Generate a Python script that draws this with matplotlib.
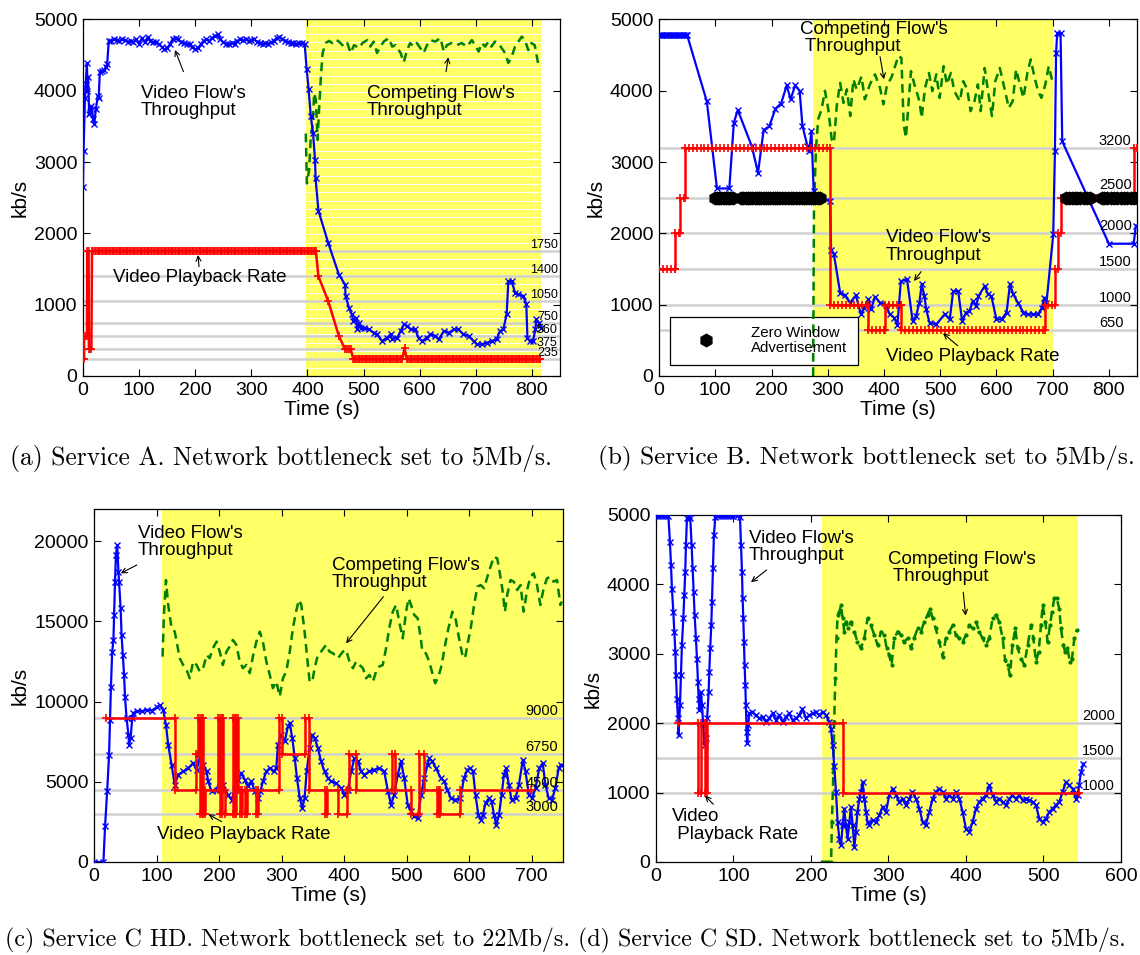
import numpy as np
import matplotlib
matplotlib.use("Agg")
import matplotlib.pyplot as plt
from matplotlib.patches import Rectangle

plt.rcParams["font.family"] = ["Liberation Sans", "DejaVu Sans"]

BLUE = "#0000ff"
RED = "#ff0000"
GREEN = "#007f00"
YELLOW = "#ffff66"
LEVEL_GREY = "#d0d0d0"

# ---------------- (a) Service A, 5 Mb/s bottleneck ----------------
a_levels = [1750, 1400, 1050, 750, 560, 375, 235]
a_video_t = np.r_[[0, 1, 3.5, 5, 7, 8, 9, 11, 13, 15, 18, 20, 23, 26.5, 28, 30, 34, 38, 41, 43, 46],
                  np.arange(50, 400, 5),
                  [398.5, 402, 406, 410, 413.5, 414.5, 419.5, 437, 456, 467, 468, 474, 479, 482, 486,
                   489, 492, 495, 500, 509, 518, 524, 533, 542, 548, 551, 560, 566, 572, 578, 584, 592,
                   598, 604, 613, 619, 628, 634, 643, 652, 661, 669, 678, 687, 696, 702, 711, 720, 728,
                   737, 743, 749, 755, 758, 764, 770, 776, 785, 790, 792, 796, 802, 806, 808, 812, 816]]
a_video = [2650, 3150, 3900, 4100, 4390, 4000, 4200, 3670, 3700, 3780, 3600, 3530, 3750, 3925, 3900,
           4270, 4280, 4290, 4340, 4370, 4700,
           4700, 4720, 4710, 4700, 4720, 4710, 4690, 4700, 4680, 4720,
           4660, 4740, 4680, 4750, 4700, 4680, 4690, 4650, 4620, 4580,
           4600, 4650, 4730, 4740, 4720, 4680, 4670, 4660, 4650, 4620,
           4580, 4600, 4650, 4700, 4720, 4700, 4740, 4770, 4790, 4720,
           4680, 4660, 4650, 4670, 4660, 4700, 4720, 4710, 4720, 4700,
           4710, 4720, 4690, 4670, 4660, 4670, 4660, 4680, 4700, 4740,
           4750, 4730, 4700, 4680, 4670, 4670, 4660, 4670, 4670, 4660,
           4310, 4030, 3640, 3407, 3030, 2770, 2320, 1867, 1423, 1283,
           1120, 957, 863, 770, 817, 653, 747, 677, 677, 653,
           607, 583, 490, 537, 583, 513, 537, 630, 723, 700,
           653, 653, 537, 490, 537, 583, 560, 513, 630, 607,
           653, 653, 583, 560, 490, 443, 443, 467, 490, 513,
           630, 653, 863, 1330, 1330, 1167, 1143, 1120, 1003, 537,
           490, 490, 653, 793, 747, 677]
a_compete_t = [397, 399, 403, 406, 409, 412, 415, 418, 421, 424, 427, 432.5, 438.5, 444, 450, 456, 465,
               471, 477, 483, 492, 498, 506.5, 512, 518, 524, 530, 536, 545, 551, 557, 566, 571.6, 577.5,
               583, 589, 595, 601, 607, 613, 619, 628, 637, 643, 648.5, 657, 666, 675, 684, 693, 699,
               705, 711, 716.6, 722.5, 728, 734, 740, 746, 752, 758, 764, 770, 776, 782, 787.6, 793.5,
               799, 805, 812]
a_compete = [3400, 2700, 2890, 3360, 3500, 3966, 3870, 3310, 3780, 4200, 4530, 4670, 4700, 4670, 4720,
             4690, 4620, 4670, 4530, 4640, 4600, 4670, 4710, 4620, 4690, 4530, 4620, 4690, 4740, 4620,
             4640, 4530, 4400, 4570, 4670, 4620, 4670, 4600, 4530, 4640, 4710, 4690, 4740, 4550, 4640,
             4670, 4640, 4670, 4620, 4710, 4640, 4550, 4670, 4620, 4690, 4620, 4690, 4670, 4600, 4530,
             4390, 4480, 4620, 4690, 4760, 4710, 4570, 4670, 4640, 4340]
# playback rate: (from s, to s, kb/s), consecutive entries joined by straight lines
a_rate = [(0, 2, 235), (2, 7, 560), (7.5, 10, 1750), (10.5, 15, 375), (16, 415, 1750),
          (419.5, 419.5, 1400), (437, 437, 1050), (456, 456, 560), (467, 477, 375),
          (482, 569, 235), (573, 573, 390), (577, 815, 235)]

# ---------------- (b) Service B, 5 Mb/s bottleneck ----------------
b_levels = [3200, 2500, 2000, 1500, 1000, 650]
b_video_t = [0, 3, 6, 9, 12, 15, 18, 21, 24, 27, 30, 33, 36, 39, 42, 45, 48, 50,
             85, 103, 125, 133, 140, 165, 176, 186, 196, 207, 217, 227, 234, 242, 250, 255, 264, 267,
             271, 275, 287, 304, 306, 311, 322, 330, 340, 350, 359, 365, 372, 377, 384, 393, 403, 410,
             418, 424, 430, 441, 451, 457, 463, 467, 472, 475, 481, 493, 508, 517, 523, 532, 539, 546,
             552, 558, 564, 568, 579, 585, 591, 600, 609, 618, 624, 630, 638, 648, 656, 665, 674, 681,
             685, 689, 701, 704, 706, 708, 714, 717, 800, 844, 848]
b_video = [4780, 4780, 4780, 4780, 4780, 4780, 4780, 4780, 4780, 4780, 4780, 4780, 4780, 4780, 4780,
           4780, 4780, 4780,
           3850, 2630, 2630, 3550, 3730, 3220, 2850, 3450, 3500, 3750, 3820, 4075, 3880, 4075, 4000,
           3510, 3220, 3150, 3430, 2590, 2500, 2450, 1770, 1705, 1170, 1130, 1030, 1130, 865, 960,
           1075, 935, 1110, 1030, 1000, 870, 820, 720, 1330, 1355, 770, 840, 1030, 1285, 1120, 935,
           750, 725, 865, 795, 1190, 1190, 770, 890, 910, 1050, 980, 1120, 1260, 1145, 1120, 795,
           795, 890, 1285, 1145, 1030, 890, 865, 865, 865, 960, 1100, 1030, 1985, 3150, 4530, 4810,
           4810, 3290, 1855, 1855, 2110]
b_compete_t = [274, 275.5, 279, 283, 289, 295, 301, 307, 311, 316, 322, 328, 334, 340, 345.6, 351.5,
               360, 366, 375, 384, 393, 399, 405, 414, 425.6, 431, 435, 439, 448, 454, 463, 467, 473,
               480, 486, 493, 499, 506, 512, 519, 525, 535, 541, 548, 554, 561, 567, 572, 579, 585,
               592, 598, 606, 614, 622, 629, 635, 641, 648, 655, 661, 668, 674, 680, 687, 693, 698, 700]
b_compete = [0, 2340, 3180, 3600, 3740, 4000, 3740, 3320, 3270, 3785, 4110, 3830, 4020, 3645, 4160,
             4020, 4200, 3880, 4090, 4230, 4040, 3810, 4065, 4200, 4490, 4460, 3530, 3340, 4275, 4090,
             3855, 3620, 4040, 4250, 3995, 4230, 3900, 4345, 4090, 4250, 3995, 3855, 4135, 4020, 3715,
             3855, 4090, 3715, 4320, 3995, 3645, 4135, 4320, 4040, 3760, 3855, 4300, 4110, 3900, 4250,
             4440, 4180, 3995, 3900, 4090, 4345, 4180, 4135]
b_rate = [(0, 28.6, 1500), (28.6, 38, 2000), (38, 45.8, 2500), (45.8, 304.5, 3200),
          (304.5, 372, 1000), (372, 402, 650), (402, 431, 1000), (431, 685.5, 650),
          (685.5, 705, 1000), (705, 709, 1500), (709, 715, 2000), (715, 845, 2500), (845, 850, 3200)]
b_zero_window_t = [99, 103, 107, 111, 115, 119, 123, 127, 131, 146, 150, 154, 158, 162, 166, 170,
                   174, 178, 182, 186, 190, 194, 198, 202, 206, 210, 214, 219, 224, 229, 234, 239,
                   244, 249, 254, 258, 262, 266, 270, 274, 278, 282, 286, 724, 729, 734, 739, 744,
                   749, 755, 761, 766, 787, 792, 797, 803, 809, 815, 821, 827, 833, 839, 845, 850]
b_zero_window_level = 2500

# ---------------- (c) Service C HD, 22 Mb/s bottleneck ----------------
c_levels = [9000, 6750, 4500, 3000]
c_video_t = [0, 15, 17.6, 21, 24, 25.5, 27, 29, 31, 32, 33.5, 35, 37, 39, 40, 42.5, 44, 46, 48, 49.5,
             52, 55, 56, 58.5, 61, 63, 68, 76, 84, 92, 100, 105, 110.6, 115, 118.6, 124, 129, 134.6,
             142.5, 150.5, 158.5, 164, 169, 174.5, 180, 182.5, 188, 196, 202, 206, 214, 220, 225, 230,
             235.6, 241, 246, 251.6, 257, 262, 266, 270, 275.5, 281, 287, 291.5, 294, 299.5, 305, 310,
             313, 317, 321, 324.5, 329, 333, 336.7, 340, 344.7, 349, 352.7, 358, 363, 368.6, 374, 379,
             387, 395, 400.5, 406, 411, 416.5, 422, 427, 432.4, 440, 448, 456, 464, 470, 475, 480,
             485.6, 491, 496, 501.6, 507, 512, 517.5, 523, 528, 533.5, 536, 541, 546.6, 554.6, 560, 565,
             570.4, 578, 586, 591.6, 597, 602, 606, 610, 614.5, 618, 622, 626, 631.6, 635.8, 639.5,
             643.3, 647.6, 651.8, 655.5, 659, 663.4, 667.6, 674, 679.4, 685.7, 690, 695.3, 700.6, 706,
             712, 717.5, 721.8, 727, 732.4, 737.7, 743, 747]
c_video = [0, 0, 2220, 4440, 6680, 8860, 10935, 13110, 13840, 15400,
           17470, 19130, 19750, 18090, 17470, 15810, 14150, 12900, 11660, 10310,
           8960, 7930, 7300, 7720, 8960, 9280, 9420, 9380, 9480, 9440,
           9630, 9790, 9480, 8550, 7300, 6060, 4810, 5440, 5640, 5850,
           6160, 5750, 6470, 6060, 5640, 5020, 4400, 4500, 5230, 4810,
           4190, 3880, 4500, 5125, 5540, 5125, 4710, 5020, 4400, 3980,
           4400, 5020, 5640, 5850, 5640, 5850, 7300, 7930, 7510, 8450,
           8650, 7720, 6470, 5230, 3980, 3360, 3980, 5640, 7100, 7930,
           7720, 7100, 6270, 5640, 5230, 5020, 4920, 4610, 4190, 4500,
           5640, 6470, 6270, 5640, 5440, 5640, 5750, 5850, 5640, 4400,
           3570, 4190, 5440, 6270, 5230, 3570, 3150, 2840, 2740, 4190,
           5230, 6060, 6470, 6270, 5850, 5230, 5020, 4500, 3980, 3880,
           3980, 5230, 5750, 5850, 5640, 4190, 2950, 2640, 2950, 3670,
           3980, 3780, 2950, 2320, 2950, 4190, 5440, 5850, 4810, 3880,
           3980, 4810, 6370, 5640, 4190, 3980, 4610, 5850, 6160, 4810,
           3980, 3880, 4610, 5850, 6060]
c_compete_t = [109.6, 111.7, 115, 118.6, 124, 129, 133, 137, 142.5, 148, 153, 158.5, 164, 169, 174.5,
               180, 185, 190, 196, 201, 206, 211.7, 217, 222, 227.6, 233, 238, 243.6, 249, 254, 259.6,
               265, 270, 275.5, 281, 286, 291.5, 297, 302, 307.4, 313, 318, 323, 327.6, 331.4, 336.7,
               342, 344.7, 349, 352.7, 358, 363, 371, 376.6, 382, 390, 398, 403, 408.5, 414, 419,
               424.5, 430, 435, 440.4, 446, 451, 456, 461.7, 467, 472, 477.7, 483, 488, 493.6, 499,
               503, 507, 512, 517.5, 522.5, 525, 530.6, 536, 541, 545.5, 550.8, 556, 561.4, 566.7,
               573, 578.5, 583.7, 589, 593.3, 597, 602.4, 607.7, 613, 618.3, 623.6, 629, 634, 639.5,
               644.8, 648.5, 652.8, 657, 660.7, 666, 671.3, 676.6, 682, 687, 692.5, 697.8, 703, 708.4,
               713.7, 719, 724.4, 729.7, 735, 740.4, 745.7, 748]
c_compete = [12800, 15400, 17575, 16020, 14570, 14360, 13530, 12700, 12280, 11970,
             11450, 12490, 12280, 11870, 12080, 12900, 12700, 13320, 13740, 13110,
             12280, 13110, 13430, 13840, 13530, 12490, 12080, 12280, 11770, 12800,
             13740, 14360, 13740, 12490, 11660, 10830, 11250, 10310, 11450, 11870,
             13110, 14570, 15600, 16330, 16020, 14360, 12280, 11250, 11250, 12080,
             12900, 13110, 13530, 13110, 13010, 12700, 13110, 13220, 12490, 12080,
             12490, 12280, 12080, 11450, 11660, 11250, 11870, 12180, 12280, 13320,
             14570, 15600, 16020, 14980, 13940, 15600, 16430, 16020, 15400, 15190,
             13940, 13110, 13010, 12490, 11770, 11140, 11560, 12280, 13530, 14570,
             15600, 15090, 13940, 12900, 12700, 13530, 14570, 16020, 17160, 17260,
             17060, 17780, 18400, 19030, 18920, 18090, 17060, 15600, 16640, 17575,
             17470, 16950, 17260, 15600, 16950, 17780, 17990, 17260, 16020, 17060,
             17680, 17780, 17470, 17575, 16020, 16230]
c_rate = [(19, 129, 9000), (129, 163, 4500), (163, 166, 6750), (166, 169, 9000), (169, 172, 3000),
          (172, 174, 9000), (174, 177, 3000), (177, 199, 4500), (199, 202, 9000), (202, 204, 3000),
          (204, 206, 9000), (206, 209, 4500), (209, 222, 3000), (222, 225, 9000), (225, 227, 3000),
          (227, 230, 9000), (230, 234, 4500), (234, 237, 3000), (237, 241, 4500), (241, 244, 3000),
          (244, 259, 4500), (259, 262, 3000), (262, 295, 4500), (295, 300, 9000), (300, 337, 6750),
          (337, 343, 9000), (343, 369, 4500), (369, 372, 3000), (372, 390, 4500), (390, 404, 3000),
          (404, 408, 4500), (408, 419, 6750), (419, 476, 4500), (476, 481, 6750), (481, 507, 4500),
          (507, 520, 3000), (520, 528, 6750), (528, 549, 4500), (549, 552, 3000), (552, 554, 4500),
          (554, 586, 3000), (586, 699, 4500)]

# ---------------- (d) Service C SD, 5 Mb/s bottleneck ----------------
d_levels = [2000, 1500, 1000]
d_video_t = [0, 4, 8, 12, 16, 18, 19.4, 20.6, 22.4, 23.7, 25, 25.8, 27, 28.4, 29.2, 31, 32.3, 33.5,
             35.3, 36.6, 37.8, 38.7, 40, 42, 44.3, 46, 47.3, 48.6, 49.9, 51.6, 52.9, 54.2, 55, 56, 58,
             59.4, 61, 62.8, 64.5, 66, 68, 68.8, 70, 71.4, 72.3, 73.5, 74.8, 76.6, 80, 84, 88, 92, 96,
             100, 104, 108.4, 109.7, 111, 111.8, 112.7, 113.5, 114.4, 115.3, 116, 117, 117.8, 119,
             120.4, 124, 129, 133.3, 137.6, 142, 146, 150.5, 155, 159, 163.4, 167.7, 172, 176.3, 180.6,
             185, 189, 193.5, 198, 202, 206.5, 210.8, 215, 219.4, 223.7, 225.8, 228, 230, 232.3, 234.4,
             236.6, 238.7, 240.9, 243, 245, 247.3, 249.5, 251.6, 253.8, 256, 258, 260, 262.4, 264.5,
             266.7, 268.8, 271, 273, 275, 279.6, 284, 288, 292.5, 296.8, 301, 305.4, 309.7, 314, 318.3,
             322.6, 327, 331, 335.5, 340, 344, 348, 352.7, 357, 361.3, 365.6, 370, 374, 378.5, 382.8,
             387, 391.4, 395.7, 400, 404.3, 408.6, 413, 417, 421.5, 425.8, 430, 434.4, 438.7, 443,
             447.3, 451.6, 456, 460, 464.5, 468.8, 473, 477.4, 481.7, 486, 490.3, 494.6, 499, 503,
             507.5, 512, 516, 520.4, 524.7, 529, 533, 537.6, 542, 544, 546, 548.4, 551.6]
d_video = [4990, 4990, 4990, 4990, 4990, 4615, 4280, 3940, 3600, 3320,
           3030, 2690, 2355, 2070, 1830, 2260, 2690, 3125, 3510, 3850,
           4180, 4570, 4950, 4990, 4950, 4570, 4230, 3890, 3560, 3220,
           2930, 2600, 2355, 2190, 2450, 2260, 1970, 1680, 1780, 2070,
           2450, 2740, 3080, 3410, 3750, 4230, 4710, 4975, 4990, 4990,
           4990, 4990, 4990, 4990, 4990, 4975, 4570, 4180, 3800, 3510,
           3170, 2840, 2550, 2260, 1875, 1710, 1970, 2140, 2160, 2115,
           2070, 2090, 2020, 2070, 2140, 2040, 2115, 2020, 2090, 2140,
           2040, 2070, 2115, 2210, 2070, 2115, 2140, 2160, 2115, 2160,
           2115, 2020, 1920, 1680, 1390, 1010, 577, 336, 240, 530,
           770, 530, 336, 577, 793, 530, 216, 433, 721, 913,
           1010, 1154, 913, 721, 577, 529, 600, 577, 673, 793,
           721, 962, 1058, 962, 865, 913, 817, 913, 1010, 913,
           770, 577, 529, 721, 913, 1010, 1058, 1010, 913, 962,
           913, 1010, 913, 721, 481, 433, 577, 770, 865, 913,
           962, 1106, 962, 865, 913, 865, 817, 913, 962, 913,
           962, 890, 913, 890, 865, 817, 625, 577, 625, 721,
           770, 817, 865, 1010, 1154, 1106, 1058, 913, 962, 1106,
           1298, 1418]
d_compete_t = [214, 218, 222, 226, 227, 229, 230, 231.4, 233, 234.4, 236.6, 238.7, 240.9, 243, 245,
               247.3, 251.6, 256, 260, 264.5, 268.8, 273, 277.4, 281.7, 286, 290.3, 294.6, 297.6, 301,
               304, 307.5, 311.8, 316, 320, 324.7, 329, 333, 337.6, 342, 346, 350.5, 353.5, 357, 361,
               365.6, 370, 374, 378.5, 383, 387, 391.4, 395.7, 400, 404.3, 408.6, 413, 417, 421.5,
               425.8, 430, 434.4, 438.7, 443, 447.3, 450.5, 453.8, 456.8, 460, 463.7, 466.7, 471,
               475.3, 479.6, 484, 487, 490.3, 493.8, 496.8, 499, 502.4, 505.4, 508.4, 511, 514, 517,
               520.4, 522.6, 525.6, 528, 531, 534, 536.8, 539.8, 542.8]
d_compete = [0, 0, 0, 0, 577, 1298, 2020, 2644, 3220, 3560,
             3600, 3700, 3510, 3320, 3460, 3365, 3460, 3320, 3170, 3080,
             3220, 3510, 3410, 3270, 3125, 3320, 3270, 3080, 2980, 2840,
             3220, 3320, 3270, 3170, 3220, 3080, 3220, 3365, 3320, 3460,
             3560, 3650, 3510, 3365, 3170, 2960, 3220, 3320, 3410, 3270,
             3220, 3170, 3270, 3410, 3365, 3460, 3320, 3220, 3125, 3220,
             3510, 3560, 3460, 3220, 2910, 2840, 2690, 3125, 3365, 3080,
             2930, 2840, 3125, 3410, 3220, 2885, 3030, 3410, 3700, 3460,
             3170, 3410, 3600, 3800, 3800, 3650, 3365, 3125, 3030, 3080,
             2885, 2930, 3220, 3340]
d_rate = [(29, 54.5, 2000), (54.5, 57.5, 1000), (57.5, 63.5, 2000), (63.5, 66.5, 1000),
          (66.5, 241, 2000), (241, 546, 1000)]

captions = ["(a) Service A. Network bottleneck set to 5Mb/s.",
            "(b) Service B. Network bottleneck set to 5Mb/s.",
            "(c) Service C HD. Network bottleneck set to 22Mb/s.",
            "(d) Service C SD. Network bottleneck set to 5Mb/s."]


def rate_path(plateaus, every=None):
    """Turn the playback-rate plateaus into a polyline; optional sample marks along each plateau."""
    ts, vs = [], []
    for t0, t1, level in plateaus:
        seg = [t0]
        if every:
            seg += list(np.arange(t0 + every, t1, every))
        if t1 > t0:
            seg.append(t1)
        ts += seg
        vs += [level] * len(seg)
    return ts, vs


def frame(ax, xmax, ymax, xticks, yticks, levels, shade, label_x, label_ha, label_size, lift=None):
    lift = lift or {}
    ax.set_xlim(0, xmax)
    ax.set_ylim(0, ymax)
    ax.set_xticks(xticks)
    ax.set_yticks(yticks)
    ax.tick_params(direction="in", top=True, right=True, length=5, width=0.8,
                   labelsize=14, pad=4)
    for sp in ax.spines.values():
        sp.set_linewidth(0.9)
    ax.axvspan(shade[0], shade[1], color=YELLOW, lw=0, zorder=0)
    for lv in levels:
        ax.axhline(lv, color=LEVEL_GREY, lw=1.8, zorder=1)
        ax.text(label_x, lv + lift.get(lv, 0), f"{lv}", ha=label_ha, va="bottom",
                fontsize=label_size, zorder=5)
    ax.set_xlabel("Time (s)", fontsize=15, labelpad=1)
    ax.set_ylabel("kb/s", fontsize=15, labelpad=3)


def note(ax, text, at, head, tail, size=13.5):
    ax.text(at[0], at[1], text, fontsize=size, ha="left", va="center", linespacing=1.05, zorder=6)
    ax.annotate("", xy=head, xytext=tail, zorder=6,
                arrowprops=dict(arrowstyle="->", lw=0.8, color="black",
                                shrinkA=0, shrinkB=0, mutation_scale=9))


def draw_video(ax, t, v):
    ax.plot(t, v, color=BLUE, lw=1.6, marker="x", ms=4.5, mew=1.0, zorder=3)


def draw_compete(ax, t, v, marker=None):
    ax.plot(t, v, color=GREEN, lw=1.8, ls=(0, (3.5, 2.2)), marker=marker, ms=4, zorder=2.5)


def draw_rate(ax, plateaus, every=None):
    t, v = rate_path(plateaus, every)
    ax.plot(t, v, color=RED, lw=1.8, marker="+", ms=6, mew=1.2, zorder=3.5)


fig = plt.figure(figsize=(11.4, 9.55), dpi=100)
ax_a = fig.add_axes([0.0728, 0.6063, 0.4184, 0.3733])
ax_b = fig.add_axes([0.5781, 0.6063, 0.4193, 0.3733])
ax_c = fig.add_axes([0.0825, 0.0974, 0.4114, 0.3696])
ax_d = fig.add_axes([0.5754, 0.0974, 0.4079, 0.3634])

# (a)
frame(ax_a, 850, 5000, range(0, 801, 100), range(0, 5001, 1000), a_levels, (397, 817),
      846, "right", 9)
ax_a.hlines(np.arange(117, 5000, 117), 397, 817, color="white", lw=0.7, zorder=0.5)
draw_compete(ax_a, a_compete_t, a_compete)
draw_video(ax_a, a_video_t, a_video)
draw_rate(ax_a, a_rate, every=2.5)
note(ax_a, "Video Flow's\nThroughput", (102.5, 3843), (164, 4572), (179, 4268))
note(ax_a, "Competing Flow's\nThroughput", (505.7, 3843), (651, 4470), (647, 4268))
note(ax_a, "Video Playback Rate", (53.5, 1384), (205, 1697), (206.7, 1533))

# (b)
frame(ax_b, 850, 5000, range(0, 801, 100), range(0, 5001, 1000), b_levels, (273, 700),
      782, "left", 10.5, lift={2500: 80})
draw_compete(ax_b, b_compete_t, b_compete)
draw_video(ax_b, b_video_t, b_video)
draw_rate(ax_b, b_rate, every=7)
ax_b.plot(b_zero_window_t, [b_zero_window_level] * len(b_zero_window_t), ls="none",
          marker="h", ms=9, color="black", zorder=4)
ax_b.add_patch(Rectangle((0.023, 0.031), 0.393, 0.135, transform=ax_b.transAxes,
                         facecolor="white", edgecolor="black", lw=0.9, zorder=1.5))
ax_b.plot([0.098], [0.100], transform=ax_b.transAxes, marker="h", ms=9, color="black",
          ls="none", zorder=6)
ax_b.text(0.192, 0.100, "Zero Window\nAdvertisement", transform=ax_b.transAxes,
          fontsize=10.8, va="center", ha="left", linespacing=1.15, zorder=6)
note(ax_b, "Competing Flow's\n Throughput", (250.7, 4740), (400, 4161), (393, 4478))
note(ax_b, "Video Flow's\nThroughput", (403, 1819), (453.4, 1332), (466, 1463))
note(ax_b, "Video Playback Rate", (403, 271), (505, 599), (531, 425))

# (c)
frame(ax_c, 750, 22000, range(0, 701, 100), range(0, 20001, 5000), c_levels, (108, 750),
      742, "right", 10.5)
draw_compete(ax_c, c_compete_t, c_compete)
draw_video(ax_c, c_video_t, c_video)
draw_rate(ax_c, c_rate)
note(ax_c, "Video Flow's\nThroughput", (70.4, 19944), (42.7, 17993), (68.3, 18510))
note(ax_c, "Competing Flow's\nThroughput", (380.6, 17950), (403, 13630), (462.7, 16535))
note(ax_c, "Video Playback Rate", (100.3, 1683), (182.8, 2973), (204, 2512))

# (d)
frame(ax_d, 600, 5000, range(0, 601, 100), range(0, 5001, 1000), d_levels, (214, 544),
      592, "right", 10.5)
draw_compete(ax_d, d_compete_t, d_compete, marker=".")
draw_video(ax_d, d_video_t, d_video)
draw_rate(ax_d, d_rate)
note(ax_d, "Video Flow's\nThroughput", (120, 4539), (122.6, 4030), (142.8, 4207))
note(ax_d, "Competing Flow's\n Throughput", (299.4, 4236), (399.6, 3549), (396.5, 3886))
note(ax_d, "Video\n Playback Rate", (20.3, 526), (63.2, 955), (74, 831))

# sub-figure captions
caption_spots = [(0.009, 0.5204, 18.4), (0.525, 0.5204, 18.2),
                 (0.004, 0.0157, 17.3), (0.507, 0.0157, 17.2)]
for (x, y, size), text in zip(caption_spots, captions):
    fig.text(x, y, text, family="cmr10", fontsize=size, ha="left", va="center")

fig.savefig("out.png", dpi=100)
